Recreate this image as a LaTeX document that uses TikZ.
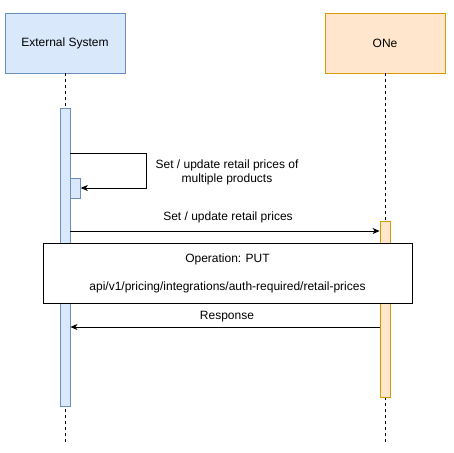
\documentclass[tikz,border=0pt]{standalone}
\usepackage{fontspec}
\setmainfont{Liberation Sans}
\usetikzlibrary{arrows.meta}
\definecolor{bluefill}{HTML}{DAE8FC}
\definecolor{bluestroke}{HTML}{6C8EBF}
\definecolor{orangefill}{HTML}{FFE6CC}
\definecolor{orangestroke}{HTML}{D79B00}
\begin{document}
\begin{tikzpicture}[x=1pt,y=-1pt,
  every node/.style={font=\fontsize{12}{14}\selectfont, inner sep=0pt},
  actorbox/.style={draw, line width=0.8pt, minimum width=120pt, minimum height=60pt},
  lifeline/.style={dashed, dash pattern=on 3pt off 3pt, line width=0.8pt},
  actbar/.style={draw, line width=0.8pt},
  msg/.style={line width=0.8pt, -{Stealth[length=7pt,width=6pt,inset=2pt]}},
  lbl/.style={align=center}]
\useasboundingbox (0,0) rectangle (453,453);
% actors
\node[actorbox, fill=bluefill, draw=bluestroke] (ext) at (65,43) {External System};
\node[actorbox, fill=orangefill, draw=orangestroke] (one) at (385,43) {ONe};
\coordinate (extend) at (65,443);
\coordinate (oneend) at (385,443);
\draw[lifeline] (ext.south) -- (extend);
\draw[lifeline] (one.south) -- (oneend);
% activation bars
\node[actbar, fill=bluefill, draw=bluestroke, minimum width=10pt, minimum height=298pt, anchor=north] (extbar) at (65,108) {};
\node[actbar, fill=orangefill, draw=orangestroke, minimum width=10pt, minimum height=176pt, anchor=north] (onebar) at (385,221) {};
\node[actbar, fill=bluefill, draw=bluestroke, minimum width=10pt, minimum height=20pt, anchor=north west] (selfbar) at (70,178) {};
% self call
\coordinate (s1) at (70,153);
\coordinate (s2) at (146,153);
\coordinate (s3) at (146,188);
\draw[msg] (s1) -- (s2) -- (s3) -- (selfbar.east |- s3);
\node[lbl] (selflbl) at (227,172) {Set / update retail prices of\\multiple products};
% message to ONe
\coordinate (m1) at (70,231);
\draw[msg] (m1) -- (onebar.west |- m1);
\node (msglbl) at (228,217) {Set / update retail prices};
% operation box
\node[draw, line width=0.8pt, fill=white, minimum width=369pt, minimum height=60pt, anchor=north west] (op) at (43,243) {};
\node (optitle) at (227.5,259) {Operation: PUT};
\node (oppath) at (227.5,287) {api/v1/pricing/integrations/auth-required/retail-prices};
% response
\coordinate (r1) at (380,327);
\draw[msg] (r1) -- (extbar.east |- r1);
\node (resplbl) at (227,317) {Response};
\end{tikzpicture}
\end{document}
